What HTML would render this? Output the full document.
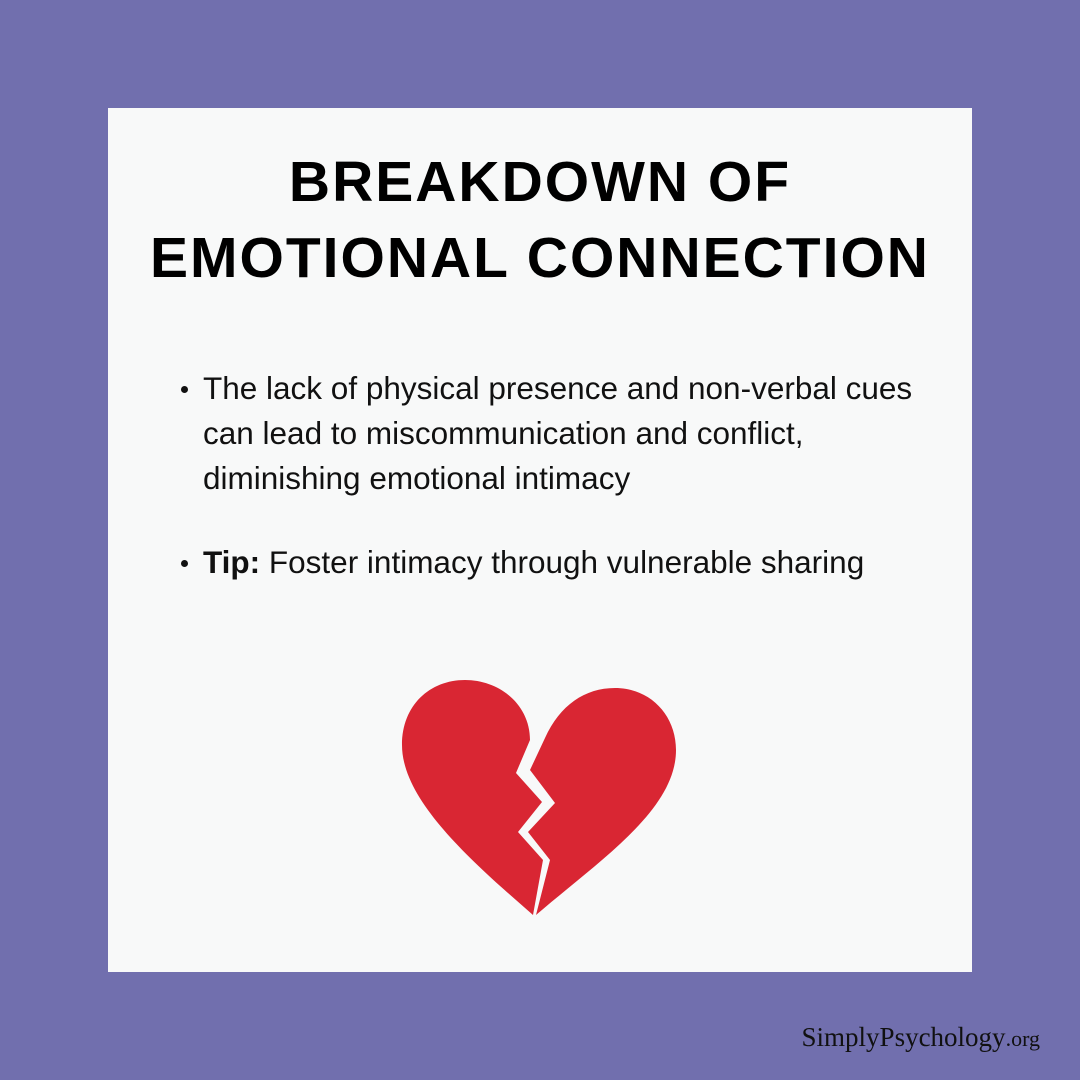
<!DOCTYPE html>
<html><head><style>
body{margin:0;width:1080px;height:1080px;background:#716fae;position:relative;overflow:hidden;font-family:"Liberation Sans",sans-serif}
.card{position:absolute;left:108px;top:108px;width:864px;height:864px;background:#f8f9f9}
h1{position:absolute;left:0;width:864px;top:36px;margin:0;text-align:center;font-size:57px;line-height:76px;font-weight:bold;letter-spacing:2px;color:#000}
.b{position:absolute;left:95px;width:722px;font-size:31.5px;line-height:45px;color:#111}
.b:before{content:"";position:absolute;left:-22px;top:20px;width:7px;height:7px;border-radius:50%;background:#111}
.foot{position:absolute;right:40px;top:1022px;font-family:"Liberation Serif",serif;font-size:27px;color:#111}
.foot span{font-size:22px}
</style></head><body>
<div class="card">
<h1>BREAKDOWN OF<br>EMOTIONAL CONNECTION</h1>
<div class="b" style="top:258px">The lack of physical presence and non-verbal cues can lead to miscommunication and conflict, diminishing emotional intimacy</div>
<div class="b" style="top:432px"><b>Tip:</b> Foster intimacy through vulnerable sharing</div>
</div>
<svg style="position:absolute;left:0;top:0" width="1080" height="1080">
<path fill="#d92633" d="M533,915 C470,860 402,800 402,745 C402,705 430,680 465,680 C500,680 530,705 530,740 L516,773 L542,802 L518,832 L543,860 Z"/>
<path fill="#d92633" d="M536,915 L550,860 L528,832 L555,803 L530,770 L545,738 C560,705 585,688 615,688 C650,688 676,715 676,750 C676,810 600,860 536,915 Z"/>
</svg>
<div class="foot">SimplyPsychology<span>.org</span></div>
</body></html>
